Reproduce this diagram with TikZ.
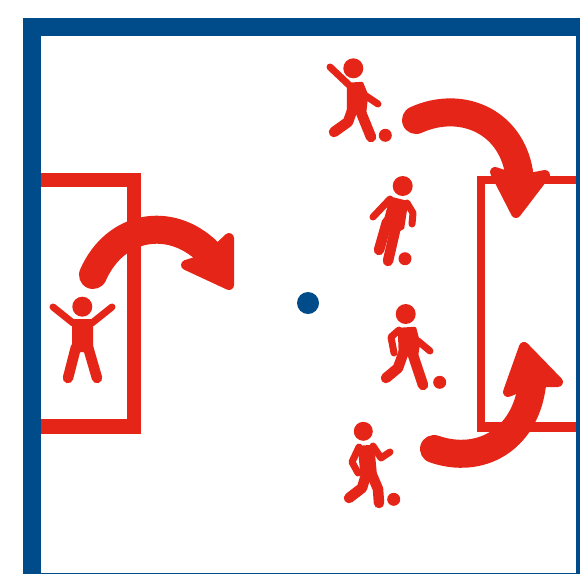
\documentclass[tikz,border=0pt]{standalone}
\definecolor{kred}{RGB}{229,37,23}
\definecolor{kblue}{RGB}{0,76,138}
\tikzset{
  frameband/.style={fill=kblue,draw=none},
  shaft/.style={draw=kred,line width=28pt,line cap=round},
  shafthead/.style={draw=kred,fill=kred,line width=10pt,line join=round},
  limb/.style={draw=kred,line width=7pt,line cap=round,line join=round},
  leg/.style={draw=kred,line width=10.5pt,line cap=round,line join=round},
  torso/.style={draw=kred,fill=kred,line width=2.5pt,line join=round},
  blob/.style={fill=kred,draw=none}
}
\begin{document}
\begin{tikzpicture}[x=1pt,y=-1pt]
\useasboundingbox (0,0) rectangle (580,574);
\fill[white] (0,0) rectangle (580,574);
% goals
\fill[kred] (41,173) rectangle (141,187);
\fill[kred] (127,173) rectangle (141,434);
\fill[kred] (41,419) rectangle (141,434);
\fill[kred] (477,176) rectangle (576,184);
\fill[kred] (477,176) rectangle (485,432);
\fill[kred] (477,422) rectangle (576,432);
% frame
\fill[frameband] (23,18) rectangle (580,36);
\fill[frameband] (23,18) rectangle (41,574);
\fill[frameband] (575.5,18) rectangle (580,574);
\fill[frameband] (23,572.5) rectangle (580,574);
% centre spot
\fill[kblue] (308,303) circle (11);
% arrows
\draw[shaft] (416,120) .. controls (460,100) and (510,120) .. (519,172);
\draw[shafthead] (495,172) -- (516,213) -- (545,175) -- (519,180) -- cycle;
\draw[shaft] (434,449) .. controls (480,465) and (525,440) .. (532,385);
\draw[shafthead] (508,392) -- (524,347) -- (558,382) -- (532,382) -- cycle;
\draw[shaft] (93,275) .. controls (115,225) and (170,215) .. (208,252);
\draw[shafthead] (229,238) -- (229,285) -- (186,265) -- (208,258) -- cycle;
% goalkeeper
\fill[blob] (82.3,306.7) circle (10);
\fill[blob] (72,319) -- (93,319) -- (93,350) -- (88,353) -- (82,352) -- (76,353) -- (72,350) -- cycle;
\draw[limb] (73,323) -- (53,307);
\draw[limb] (92,323) -- (112,307);
\draw[leg] (76,347) -- (68,378);
\draw[leg] (88,347) -- (97,378);
% player 1
\fill[blob] (353.3,68.3) circle (10);
\draw[torso] (348,84) -- (362,83) -- (367,95) -- (365,113) -- (348,113) -- cycle;
\draw[limb] (330,67) -- (349,85);
\draw[limb] (366,96) -- (378,104);
\draw[leg] (353,108) -- (348,122) -- (334,132);
\draw[leg] (360,110) -- (371,137);
\fill[blob] (385.3,135.3) circle (6.5);
% player 2
\fill[blob] (402.7,186) circle (10);
\draw[torso] (391,198) -- (407,202) -- (403,228) -- (396,232) -- (383,228) -- cycle;
\draw[limb] (390,199) -- (373,217);
\draw[limb] (407,203) -- (413,213) -- (412,224);
\draw[leg] (387,222) -- (379,250);
\draw[leg] (397,222) -- (388,261);
\fill[blob] (405,258.7) circle (6.5);
% player 3
\fill[blob] (405.7,314) circle (10);
\draw[torso] (399,329) -- (415,328) -- (419,343) -- (417,355) -- (400,355) -- cycle;
\draw[limb] (399,330) -- (391,337) -- (394,353);
\draw[limb] (418,341) -- (430,351);
\draw[leg] (404,351) -- (398,368) -- (386,378);
\draw[leg] (412,352) -- (423,385);
\fill[blob] (439.7,382.3) circle (6.5);
% player 4
\fill[blob] (363.3,431.3) circle (9.5);
\draw[torso] (359,447) -- (373,446) -- (376,478) -- (362,478) -- cycle;
\draw[limb] (359,447) -- (352,462) -- (358,473);
\draw[limb] (373,446) -- (381,458) -- (390,452);
\draw[leg] (366,475) -- (362,488) -- (349,498);
\draw[leg] (372,475) -- (378,489) -- (379,503);
\fill[blob] (393.7,499.3) circle (6.5);
\end{tikzpicture}
\end{document}
